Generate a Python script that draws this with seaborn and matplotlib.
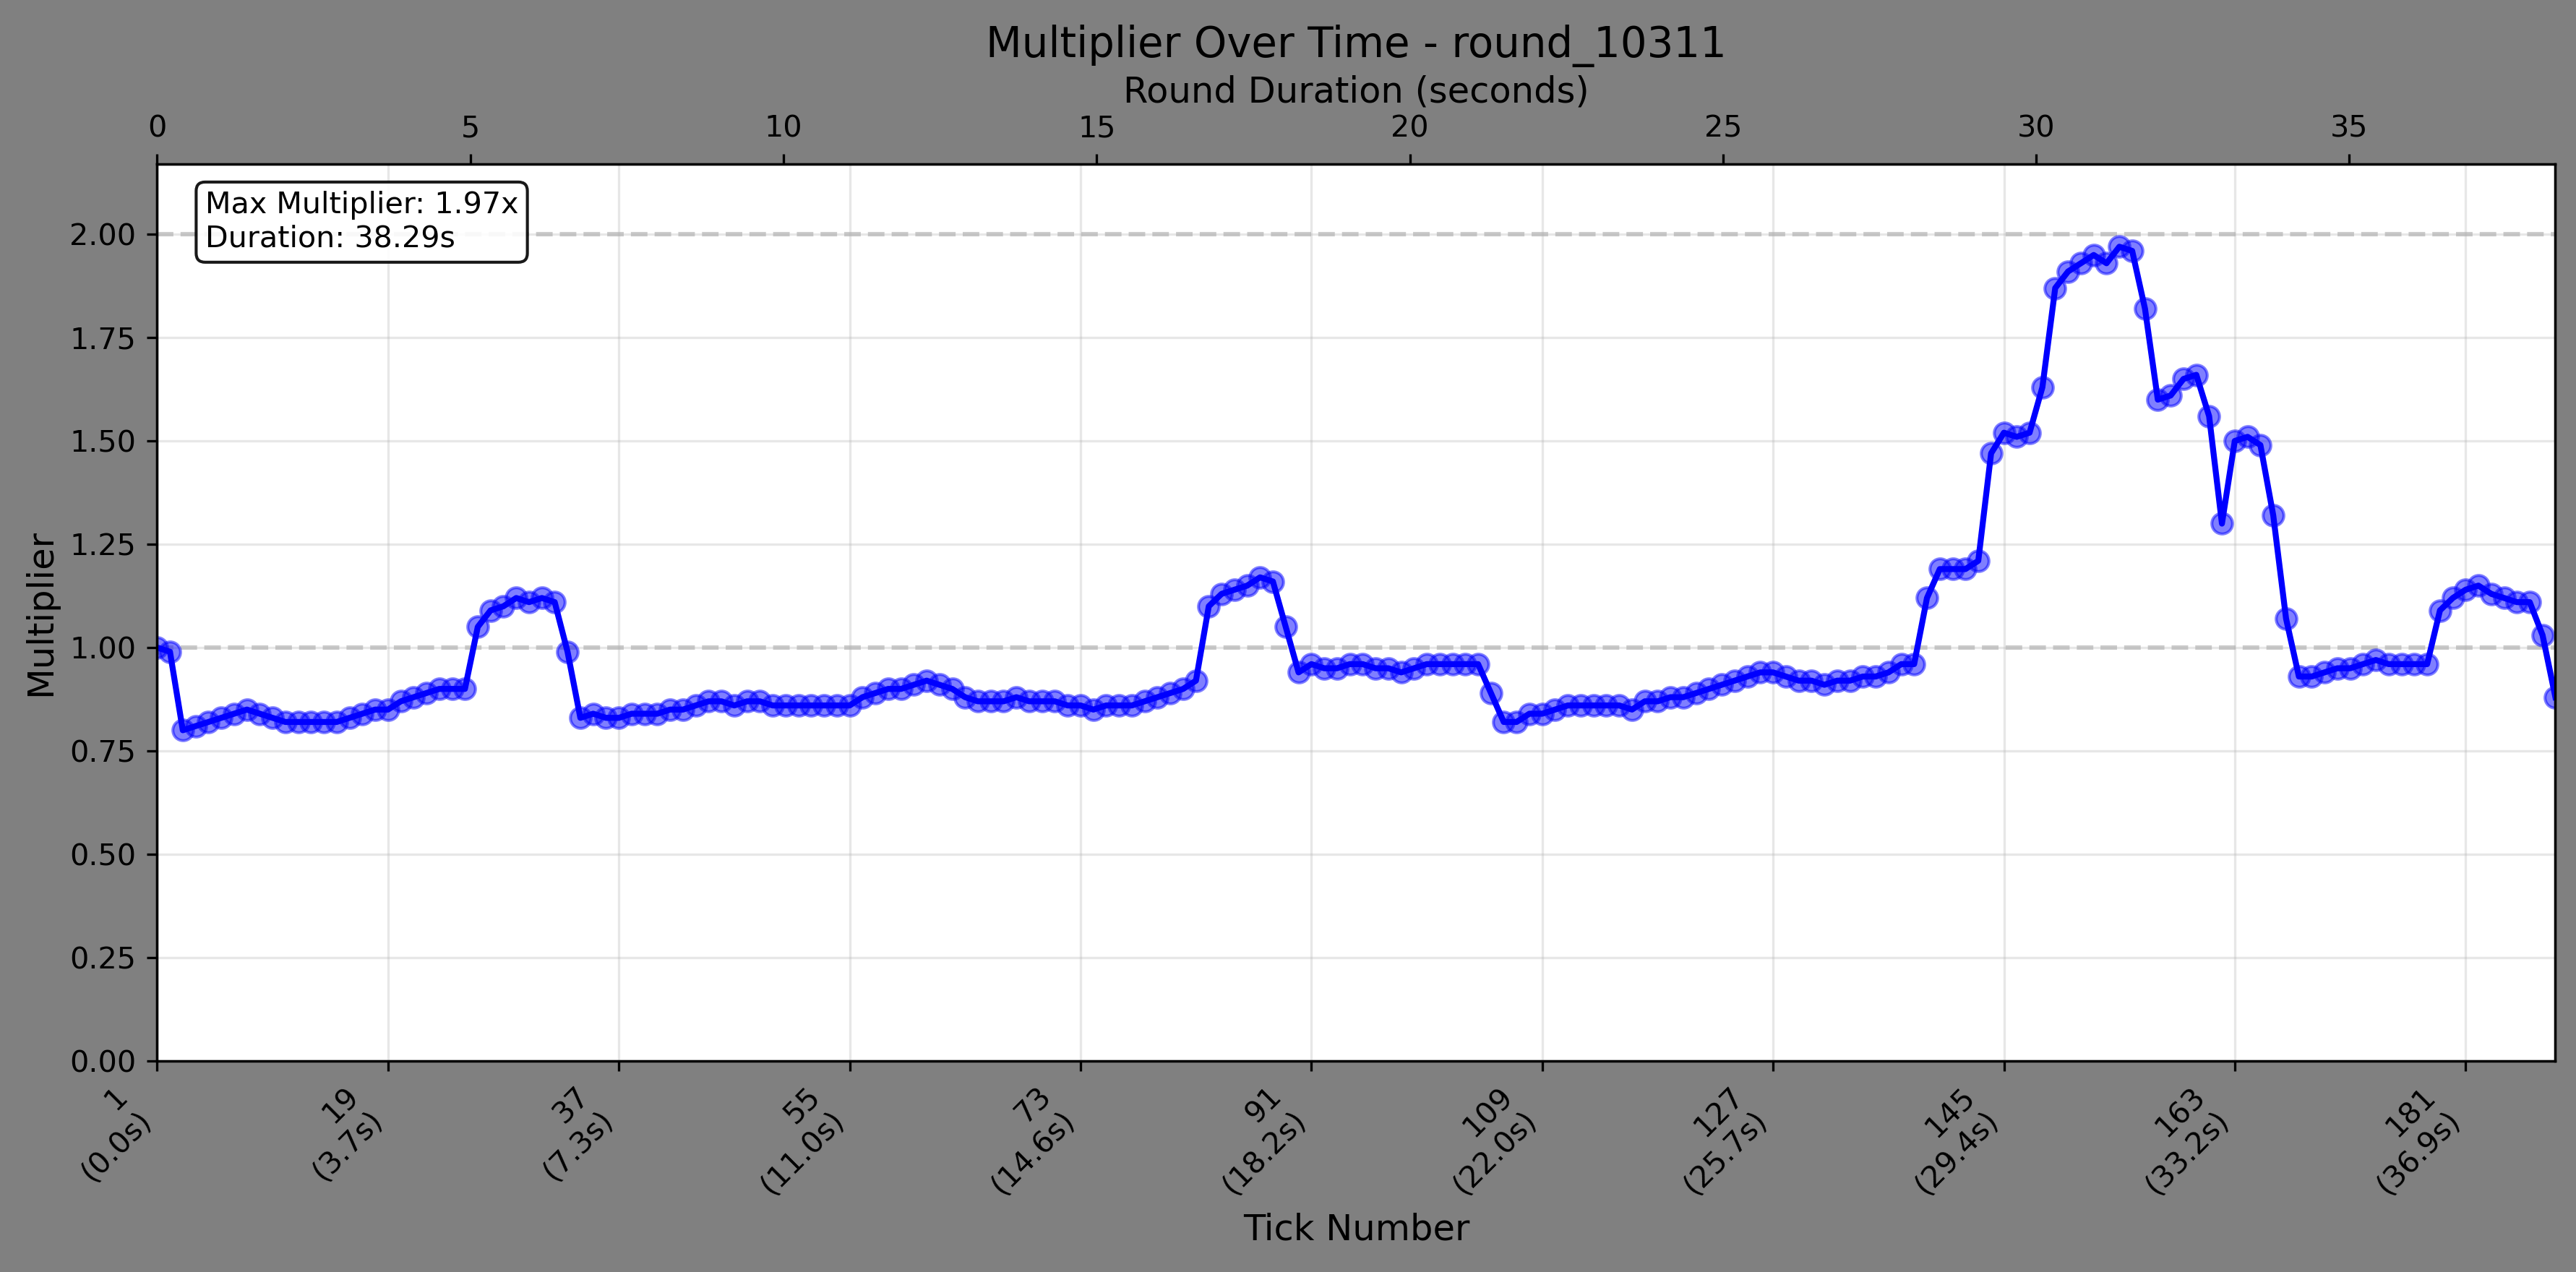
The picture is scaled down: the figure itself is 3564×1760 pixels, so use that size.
import numpy as np
import pandas as pd
import matplotlib
matplotlib.use("Agg")
import matplotlib.pyplot as plt
import seaborn as sns

round_id = "round_10311"
duration = 38.29

multiplier = [
    1.00, 0.99, 0.80, 0.81, 0.82, 0.83, 0.84, 0.85, 0.84, 0.83, 0.82, 0.82, 0.82,
    0.82, 0.82, 0.83, 0.84, 0.85, 0.85, 0.87, 0.88, 0.89, 0.90, 0.90, 0.90,
    1.05, 1.09, 1.10, 1.12, 1.11, 1.12, 1.11, 0.99, 0.83, 0.84, 0.83, 0.83, 0.84,
    0.84, 0.84, 0.85, 0.85, 0.86, 0.87, 0.87, 0.86, 0.87, 0.87, 0.86, 0.86, 0.86,
    0.86, 0.86, 0.86, 0.86,
    0.88, 0.89, 0.90, 0.90, 0.91, 0.92, 0.91, 0.90, 0.88, 0.87, 0.87, 0.87, 0.88,
    0.87, 0.87, 0.87, 0.86, 0.86, 0.85, 0.86, 0.86, 0.86, 0.87, 0.88, 0.89, 0.90, 0.92,
    1.10, 1.13, 1.14, 1.15, 1.17, 1.16, 1.05, 0.94, 0.96, 0.95, 0.95, 0.96, 0.96,
    0.95, 0.95, 0.94, 0.95, 0.96, 0.96, 0.96, 0.96, 0.96, 0.89, 0.82,
    0.82, 0.84, 0.84, 0.85, 0.86, 0.86, 0.86, 0.86, 0.86, 0.85, 0.87, 0.87, 0.88,
    0.88, 0.89, 0.90, 0.91, 0.92, 0.93, 0.94, 0.94, 0.93, 0.92, 0.92, 0.91, 0.92,
    0.92, 0.93, 0.93, 0.94, 0.96, 0.96,
    1.12, 1.19, 1.19, 1.19, 1.21, 1.47, 1.52, 1.51, 1.52, 1.63, 1.87, 1.91, 1.93,
    1.95, 1.93, 1.97, 1.96, 1.82, 1.60, 1.61, 1.65, 1.66, 1.56, 1.30, 1.50, 1.51,
    1.49, 1.32, 1.07, 0.93, 0.93, 0.94, 0.95, 0.95, 0.96, 0.97, 0.96, 0.96, 0.96, 0.96,
    1.09, 1.12, 1.14, 1.15, 1.13, 1.12, 1.11, 1.11, 1.03, 0.88,
]

# elapsed seconds at labelled ticks, as shown on the chart
label_ticks = [1, 19, 37, 55, 73, 91, 109, 127, 145, 163, 181]
label_times = [0.0, 3.7, 7.3, 11.0, 14.6, 18.2, 22.0, 25.7, 29.4, 33.2, 36.9]

n = len(multiplier)
df = pd.DataFrame({"tick": np.arange(1, n + 1), "multiplier": multiplier})

fig, ax = plt.subplots(figsize=(12, 5.926), dpi=297)
fig.patch.set_facecolor("#808080")
ax.set_facecolor("white")

sns.scatterplot(data=df, x="tick", y="multiplier", ax=ax, color="blue", alpha=0.5,
                s=48, edgecolor="blue", linewidth=1, zorder=2)
sns.lineplot(data=df, x="tick", y="multiplier", ax=ax, color="blue", linewidth=2, zorder=3)

ax.axhline(1.0, color="gray", linestyle="--", alpha=0.4, zorder=1)
ax.axhline(2.0, color="gray", linestyle="--", alpha=0.4, zorder=1)

ax.set_xlim(1, n)
ax.set_ylim(0, 2.17)
ax.set_xticks(label_ticks)
ax.set_xticklabels([f"{t}\n({s:.1f}s)" for t, s in zip(label_ticks, label_times)],
                   rotation=45, ha="right")
ax.grid(True, alpha=0.3)
ax.set_xlabel("Tick Number", fontsize=12)
ax.set_ylabel("Multiplier", fontsize=12)

top = ax.twiny()
top.set_xlim(0, duration)
top.set_xlabel("Round Duration (seconds)", fontsize=12)
top.set_xticks(range(0, 40, 5))

ax.text(0.02, 0.97, f"Max Multiplier: {max(multiplier):.2f}x\nDuration: {duration:.2f}s",
        transform=ax.transAxes, va="top", fontsize=10,
        bbox=dict(boxstyle="round", facecolor="white", alpha=0.9))

ax.set_title(f"Multiplier Over Time - {round_id}", fontsize=14, pad=6)
plt.tight_layout()
fig.subplots_adjust(left=0.061, right=0.992, top=0.871, bottom=0.166)
plt.savefig("out.png", dpi=297, facecolor=fig.get_facecolor())
